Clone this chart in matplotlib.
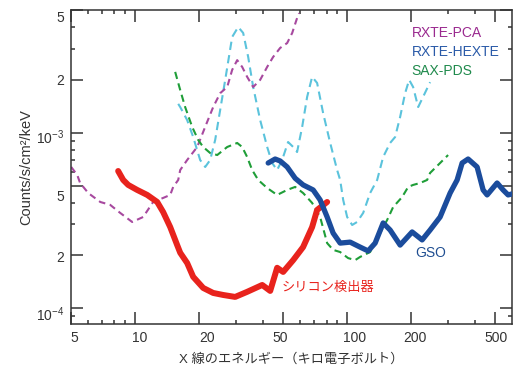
import matplotlib
matplotlib.use("Agg")
import matplotlib.pyplot as plt
from matplotlib.ticker import FixedLocator, FixedFormatter, NullFormatter
from matplotlib.transforms import ScaledTranslation

plt.rcParams['font.family'] = ['Liberation Sans', 'Noto Sans CJK JP']
plt.rcParams['mathtext.default'] = 'regular'

# energies (keV) and counts/s/cm2/keV
si_e = [8.34, 8.81, 9.30, 10.25, 11.43, 12.74, 13.59, 14.67, 15.82, 16.35, 17.63, 18.82, 20.98,
        23.38, 26.06, 29.68, 33.8, 39.8, 43.4, 46.8, 49.95, 55.7, 62.0, 68.4, 72.2, 80.5]
si_c = [6.05e-4, 5.38e-4, 5.04e-4, 4.72e-4, 4.42e-4, 4.03e-4, 3.53e-4, 2.90e-4, 2.29e-4, 2.07e-4,
        1.81e-4, 1.51e-4, 1.305e-4, 1.222e-4, 1.19e-4, 1.16e-4, 1.24e-4, 1.357e-4, 1.255e-4,
        1.70e-4, 1.61e-4, 1.88e-4, 2.23e-4, 2.90e-4, 3.63e-4, 4.03e-4]

gso_e = [42.46, 45.8, 48.35, 52.16, 56.9, 62.05, 69.16, 74.6, 80.5, 85.9, 92.7, 103.3, 115.1,
         125.6, 135.5, 147.8, 159.4, 177.7, 202.4, 225.6, 246.0, 274.2, 305.6, 329.8, 348.2,
         371.5, 409.6, 437.2, 456.6, 508.8, 543.0, 573.3, 598.7]
gso_c = [6.72e-4, 7.08e-4, 6.90e-4, 6.38e-4, 5.5e-4, 5.04e-4, 4.72e-4, 4.14e-4, 3.31e-4, 2.68e-4,
         2.35e-4, 2.38e-4, 2.23e-4, 2.12e-4, 2.35e-4, 3.06e-4, 2.79e-4, 2.29e-4, 2.72e-4, 2.45e-4,
         2.79e-4, 3.31e-4, 4.53e-4, 5.38e-4, 6.72e-4, 7.08e-4, 6.38e-4, 4.72e-4, 4.42e-4, 5.17e-4,
         4.72e-4, 4.42e-4, 4.48e-4]

hexte_e = [16.0, 16.35, 17.63, 18.82, 20.30, 21.44, 22.63, 23.89, 25.23, 26.64, 28.73, 30.67,
           32.37, 34.18, 36.08, 38.93, 42.0, 44.33, 46.8, 49.4, 52.7, 55.7, 58.1, 61.4, 64.8,
           68.4, 72.2, 77.1, 83.2, 89.7, 92.7, 95.8, 100, 105.6, 111.4, 119.0, 128.3, 138.5,
           147.8, 159.4, 168.3, 177.7, 187.6, 196.0, 204.6, 216.1, 228.0, 246.0]
hexte_c = [1.46e-3, 1.40e-3, 1.18e-3, 9.45e-4, 6.99e-4, 6.38e-4, 6.99e-4, 9.09e-4, 1.35e-3,
           2.00e-3, 3.51e-3, 4.0e-3, 3.70e-3, 2.70e-3, 1.82e-3, 1.18e-3, 8.29e-4, 6.72e-4,
           6.13e-4, 6.99e-4, 8.85e-4, 8.29e-4, 7.76e-4, 1.08e-3, 1.60e-3, 2.08e-3, 1.92e-3,
           1.29e-3, 8.74e-4, 6.13e-4, 5.38e-4, 4.14e-4, 3.31e-4, 2.98e-4, 3.10e-4, 3.49e-4,
           4.53e-4, 5.38e-4, 7.27e-4, 8.74e-4, 9.45e-4, 1.23e-3, 1.68e-3, 2.00e-3, 1.82e-3,
           1.40e-3, 1.60e-3, 1.94e-3]

pca_e = [5.01, 5.35, 5.52, 6.03, 6.87, 7.65, 8.53, 9.71, 10.94, 12.19, 13.59, 14.67, 15.15, 16.0,
         16.35, 17.63, 19.66, 21.44, 23.38, 25.23, 27.22, 28.73, 30.34, 32.02, 33.8, 36.08,
         38.93, 42.0, 44.8, 48.35, 52.16, 55.1, 58.1, 59.4]
pca_c = [6.38e-4, 5.74e-4, 5.17e-4, 4.53e-4, 4.03e-4, 3.88e-4, 3.49e-4, 3.10e-4, 3.31e-4,
         4.03e-4, 4.25e-4, 4.42e-4, 4.91e-4, 5.38e-4, 6.13e-4, 6.99e-4, 8.29e-4, 1.08e-3,
         1.40e-3, 1.68e-3, 1.82e-3, 2.28e-3, 2.59e-3, 2.37e-3, 2.08e-3, 1.82e-3, 2.00e-3,
         2.37e-3, 2.70e-3, 3.04e-3, 3.24e-3, 3.70e-3, 4.50e-3, 4.80e-3]

pds_e = [15.48, 16.35, 17.25, 18.61, 19.87, 20.98, 22.63, 24.42, 27.22, 30.34, 32.02, 33.8,
         35.69, 38.1, 42.0, 46.8, 52.16, 56.9, 62.05, 68.4, 74.6, 80.5, 85.9, 92.7, 101.1,
         109.1, 115.1, 128.3, 143.0, 154.3, 164.7, 181.6, 193.9, 204.6, 220.8, 238.2, 246.0,
         274.2, 299.0]
pds_c = [2.22e-3, 1.75e-3, 1.40e-3, 1.08e-3, 9.09e-4, 8.29e-4, 7.66e-4, 7.46e-4, 8.29e-4,
         8.74e-4, 8.29e-4, 7.27e-4, 6.13e-4, 5.38e-4, 4.84e-4, 4.42e-4, 4.72e-4, 4.91e-4,
         4.53e-4, 3.98e-4, 3.31e-4, 2.35e-4, 2.15e-4, 2.09e-4, 1.93e-4, 1.88e-4, 1.96e-4,
         2.09e-4, 2.68e-4, 3.18e-4, 3.77e-4, 4.30e-4, 4.91e-4, 5.04e-4, 5.17e-4, 5.38e-4,
         5.90e-4, 6.72e-4, 7.46e-4]

xticks = [5, 10, 20, 50, 100, 200, 500]
xtick_labels = ['5', '10', '20', '50', '100', '200', '500']
xminor = [6, 7, 8, 9, 30, 40, 60, 70, 80, 90, 300, 400]
yticks = [1e-4, 2e-4, 5e-4, 1e-3, 2e-3, 5e-3]
ytick_labels = ['$10^{-4}$', '2', '5', '$10^{-3}$', '2', '5']
yminor = [9e-5, 3e-4, 4e-4, 6e-4, 7e-4, 8e-4, 9e-4, 3e-3, 4e-3]

# the labels in the original sit a little off their ticks (pixels)
xlabel_shift = [3, 5, 8, -3, 7, 4, 1]
ylabel_shift = [-5, -1, -10, -4, 0, -6]

ink = '#333333'
fig = plt.figure(figsize=(5.26, 3.67), dpi=100)
ax = fig.add_axes([71 / 526, 1 - 324.3 / 367, 441.3 / 526, 314.3 / 367])

ax.plot(hexte_e, hexte_c, color='#5bc3dc', lw=1.5, dashes=(4, 2.5), zorder=2)
ax.plot(pca_e, pca_c, color='#a7499f', lw=1.5, dashes=(3.2, 2.2), zorder=2)
ax.plot(pds_e, pds_c, color='#1f9e38', lw=1.5, dashes=(3.5, 2.2), zorder=2)
ax.plot(si_e, si_c, color='#e8231d', lw=4.3, solid_capstyle='round', solid_joinstyle='round', zorder=3)
ax.plot(gso_e, gso_c, color='#1b4c9c', lw=3.8, solid_capstyle='round', solid_joinstyle='round', zorder=4)

ax.set_xscale('log')
ax.set_yscale('log')
ax.set_xlim(5, 600)
ax.set_ylim(8.1e-5, 5e-3)

ax.xaxis.set_major_locator(FixedLocator(xticks))
ax.xaxis.set_major_formatter(FixedFormatter(xtick_labels))
ax.xaxis.set_minor_locator(FixedLocator(xminor))
ax.xaxis.set_minor_formatter(NullFormatter())
ax.yaxis.set_major_locator(FixedLocator(yticks))
ax.yaxis.set_major_formatter(FixedFormatter(ytick_labels))
ax.yaxis.set_minor_locator(FixedLocator(yminor))
ax.yaxis.set_minor_formatter(NullFormatter())

ax.tick_params(which='both', direction='in', top=True, right=True, color=ink, width=1.1,
               labelsize=10, labelcolor=ink)
ax.tick_params(which='major', length=8.6, pad=5)
ax.tick_params(which='minor', length=2.8)
for s in ax.spines.values():
    s.set_color(ink)
    s.set_linewidth(1.1)

for tick, dx in zip(ax.xaxis.get_major_ticks(), xlabel_shift):
    tick.label1.set_transform(tick.label1.get_transform() + ScaledTranslation(dx / 100, 0, fig.dpi_scale_trans))
for tick, dy in zip(ax.yaxis.get_major_ticks(), ylabel_shift):
    tick.label1.set_transform(tick.label1.get_transform() + ScaledTranslation(0, dy / 100, fig.dpi_scale_trans))

ax.set_xlabel('X 線のエネルギー（キロ電子ボルト）', fontsize=9.5, color=ink, labelpad=5.5)
ax.set_ylabel('Counts/s/cm²/keV', fontsize=10.5, color=ink, labelpad=2)

ax.text(0.772, 0.927, 'RXTE-PCA', color='#9a2a8f', fontsize=10, transform=ax.transAxes, va='center')
ax.text(0.772, 0.866, 'RXTE-HEXTE', color='#2a5aa8', fontsize=10, transform=ax.transAxes, va='center')
ax.text(0.772, 0.806, 'SAX-PDS', color='#1f8a4c', fontsize=10, transform=ax.transAxes, va='center')
ax.text(0.781, 0.227, 'GSO', color='#1f4e91', fontsize=10, transform=ax.transAxes, va='center')
ax.text(0.4775, 0.1155, 'シリコン検出器', color='#e8231d', fontsize=9.5, transform=ax.transAxes, va='center')

fig.savefig('out.png', dpi=100)
